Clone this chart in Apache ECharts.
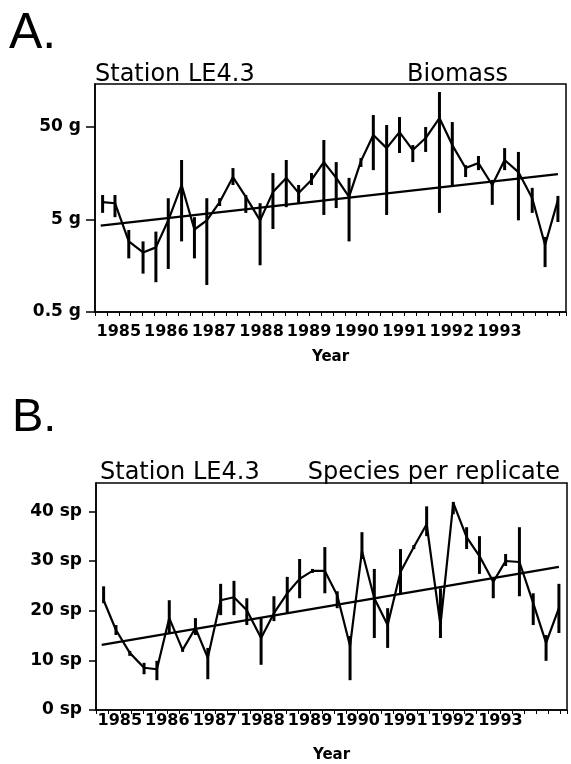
<!DOCTYPE html>
<html>
<head>
<meta charset="utf-8">
<script src="https://cdn.jsdelivr.net/npm/echarts@6/dist/echarts.min.js"></script>
<style>
html, body { margin: 0; padding: 0; background: #fff; }
#container { width: 571px; height: 764px; }
</style>
</head>
<body>
<div id="container"></div>
<script>
// 采样时间（年份小数），两幅图共用
var sampleYears = [1984.66, 1984.92, 1985.21, 1985.51, 1985.78, 1986.04, 1986.32, 1986.59, 1986.85,
    1987.12, 1987.40, 1987.67, 1987.97, 1988.24, 1988.52, 1988.78, 1989.05, 1989.31, 1989.57, 1989.84,
    1990.09, 1990.35, 1990.63, 1990.90, 1991.18, 1991.45, 1991.74, 1992.01, 1992.29, 1992.56, 1992.85,
    1993.11, 1993.40, 1993.69, 1993.96, 1994.23];

// A. Biomass (g)
var biomass = [7.7, 7.5, 2.9, 2.2, 2.5, 4.9, 11.8, 3.9, 4.9, 7.7, 14.4, 8.8, 4.9, 9.9, 14.1, 9.7, 13.4, 20.9,
    14.1, 8.8, 21.4, 41.0, 29.6, 44.1, 28.2, 38.0, 62.6, 31.9, 18.0, 20.4, 11.8, 22.0, 16.3, 8.5, 2.65, 8.1];
var biomassLow = [5.9, 5.3, 1.9, 1.3, 1.05, 1.46, 2.9, 1.9, 0.98, 7.0, 11.8, 5.9, 1.6, 3.95, 6.8, 7.5, 11.8, 5.6,
    6.65, 2.9, 18.5, 17.1, 5.6, 26.2, 20.9, 26.9, 5.9, 11.8, 14.4, 17.1, 7.2, 17.1, 4.9, 5.9, 1.53, 4.7];
var biomassHigh = [9.2, 9.2, 3.85, 2.9, 3.7, 8.5, 22.0, 5.3, 8.5, 8.5, 18.0, 9.2, 7.5, 15.9, 22.0, 11.8, 15.9, 36.2,
    20.9, 14.1, 23.1, 67.4, 52.6, 64.1, 31.9, 50.0, 119.5, 56.6, 19.4, 24.3, 13.4, 29.6, 26.9, 11.0, 3.24, 9.0];
var biomassTrend = [4.3, 15.5];

// B. Species per replicate
var species = [22.1, 16.1, 11.5, 8.5, 8.2, 18.5, 12.1, 16.5, 10.5, 22.1, 22.7, 20.1, 14.5, 19.5, 23.5, 26.4, 28.0,
    28.0, 23.1, 12.9, 32.0, 22.5, 17.1, 27.8, 32.8, 37.4, 17.1, 41.7, 34.8, 31.0, 25.8, 30.0, 29.8, 21.5, 13.5, 20.5];
var speciesLow = [21.5, 15.1, 10.9, 7.2, 6.0, 15.5, 11.7, 15.1, 6.2, 19.1, 19.1, 17.1, 9.1, 17.9, 19.5, 22.5, 27.6,
    23.5, 20.5, 6.0, 30.4, 14.5, 12.5, 23.5, 32.4, 35.0, 14.5, 39.4, 32.4, 27.4, 22.5, 29.0, 22.9, 17.1, 9.9, 15.5];
var speciesHigh = [24.9, 17.1, 11.9, 9.5, 9.9, 22.1, 12.5, 18.5, 12.5, 25.4, 26.0, 22.5, 18.5, 22.9, 26.8, 30.4, 28.4,
    32.8, 23.9, 14.9, 35.8, 28.4, 20.5, 32.4, 33.2, 41.0, 24.5, 41.9, 36.8, 35.0, 26.8, 31.4, 36.8, 23.5, 15.1, 25.4];
var speciesTrend = [13.1, 28.8];

var trendYears = [1984.62, 1994.23];
var yearLabels = [1985, 1986, 1987, 1988, 1989, 1990, 1991, 1992, 1993];
var biomassTicks = [0.5, 5, 50];
var speciesTicks = [0, 10, 20, 30, 40];

// 对数坐标：以 0.5 g 为起点的 log10
function lg(v) {
    return Math.log10(v / 0.5);
}

var myChart = echarts.init(document.getElementById('container'));

var labelFont = 'DejaVu Sans';
var black = '#000';

function pairs(xs, ys, f) {
    var out = [];
    for (var i = 0; i < xs.length; i++) {
        out.push([xs[i], f ? f(ys[i]) : ys[i]]);
    }
    return out;
}

function bars(lo, hi, f) {
    var out = [];
    for (var i = 0; i < sampleYears.length; i++) {
        out.push([sampleYears[i], f ? f(lo[i]) : lo[i], f ? f(hi[i]) : hi[i]]);
    }
    return out;
}

// 误差棒
function renderBar(params, api) {
    var p1 = api.coord([api.value(0), api.value(1)]);
    var p2 = api.coord([api.value(0), api.value(2)]);
    return {
        type: 'line',
        shape: {x1: p1[0], y1: p1[1], x2: p2[0], y2: p2[1]},
        style: {stroke: black, lineWidth: 3}
    };
}

function xAxisFor(gridIndex, labelMargin) {
    return {
        type: 'value',
        gridIndex: gridIndex,
        min: 1984.5,
        max: 1994.4,
        interval: 0.25,
        name: 'Year',
        nameLocation: 'middle',
        nameGap: 38,
        nameTextStyle: {color: black, fontFamily: labelFont, fontWeight: 'bold', fontSize: 15},
        axisLine: {lineStyle: {color: black, width: 1.5}},
        axisTick: {length: 4, lineStyle: {color: black, width: 1}},
        axisLabel: {
            color: black, fontFamily: labelFont, fontWeight: 'bold', fontSize: 16, margin: labelMargin,
            showMinLabel: true, showMaxLabel: true,
            formatter: function (v) {
                var r = Math.round(v);
                return (Math.abs(v - r) < 1e-6 && yearLabels.indexOf(r) >= 0) ? String(r) : '';
            }
        },
        splitLine: {show: false}
    };
}

function titleText(text, pos, size, font) {
    var t = {text: text, padding: 0, textStyle: {fontSize: size, fontWeight: 'normal', fontFamily: font, color: black}};
    for (var k in pos) t[k] = pos[k];
    return t;
}

var option = {
    backgroundColor: '#fff',
    animation: false,
    title: [
        titleText('A.', {left: 9, top: 9}, 50, 'Liberation Sans'),
        titleText('B.', {left: 12, top: 395}, 47, 'Liberation Sans'),
        titleText('Station LE4.3', {left: 95, top: 63}, 24, labelFont),
        titleText('Biomass', {right: 63, top: 63}, 24, labelFont),
        titleText('Station LE4.3', {left: 100, top: 461}, 24, labelFont),
        titleText('Species per replicate', {right: 11, top: 461}, 24, labelFont)
    ],
    grid: [
        {left: 95, top: 84, width: 471, height: 228, show: true, borderColor: black, borderWidth: 1.5},
        {left: 96, top: 483, width: 471, height: 230, show: true, borderColor: black, borderWidth: 1.5}
    ],
    xAxis: [xAxisFor(0, 12), xAxisFor(1, 3)],
    yAxis: [
        {
            type: 'value', gridIndex: 0, min: 0, max: lg(146),
            axisLine: {show: true, lineStyle: {color: black, width: 1.5}},
            axisTick: {show: true, length: 9, customValues: biomassTicks.map(lg), lineStyle: {color: black, width: 1.5}},
            axisLabel: {
                color: black, fontFamily: labelFont, fontWeight: 'bold', fontSize: 17, margin: 14,
                customValues: biomassTicks.map(lg),
                formatter: function (v) {
                    return Number((0.5 * Math.pow(10, v)).toPrecision(2)) + ' g';
                }
            },
            splitLine: {show: false}
        },
        {
            type: 'value', gridIndex: 1, min: 0, max: 45.7,
            axisLine: {show: true, lineStyle: {color: black, width: 1.5}},
            axisTick: {show: true, length: 7, customValues: speciesTicks, lineStyle: {color: black, width: 1.5}},
            axisLabel: {
                color: black, fontFamily: labelFont, fontWeight: 'bold', fontSize: 17, margin: 14,
                customValues: speciesTicks,
                formatter: function (v) {
                    return v + ' sp';
                }
            },
            splitLine: {show: false}
        }
    ],
    series: [
        {
            name: 'Biomass', type: 'line', xAxisIndex: 0, yAxisIndex: 0,
            data: pairs(sampleYears, biomass, lg), symbol: 'none',
            lineStyle: {color: black, width: 2.2}
        },
        {
            name: 'Biomass range', type: 'custom', xAxisIndex: 0, yAxisIndex: 0,
            renderItem: renderBar, data: bars(biomassLow, biomassHigh, lg),
            encode: {x: 0, y: [1, 2]}
        },
        {
            name: 'Biomass trend', type: 'line', xAxisIndex: 0, yAxisIndex: 0,
            data: pairs(trendYears, biomassTrend, lg), symbol: 'none',
            lineStyle: {color: black, width: 2.2}
        },
        {
            name: 'Species', type: 'line', xAxisIndex: 1, yAxisIndex: 1,
            data: pairs(sampleYears, species), symbol: 'none',
            lineStyle: {color: black, width: 2.2}
        },
        {
            name: 'Species range', type: 'custom', xAxisIndex: 1, yAxisIndex: 1,
            renderItem: renderBar, data: bars(speciesLow, speciesHigh),
            encode: {x: 0, y: [1, 2]}
        },
        {
            name: 'Species trend', type: 'line', xAxisIndex: 1, yAxisIndex: 1,
            data: pairs(trendYears, speciesTrend), symbol: 'none',
            lineStyle: {color: black, width: 2.2}
        }
    ]
};

myChart.setOption(option, true);

window.onresize = function () {
    myChart.resize();
};
</script>
</body>
</html>
